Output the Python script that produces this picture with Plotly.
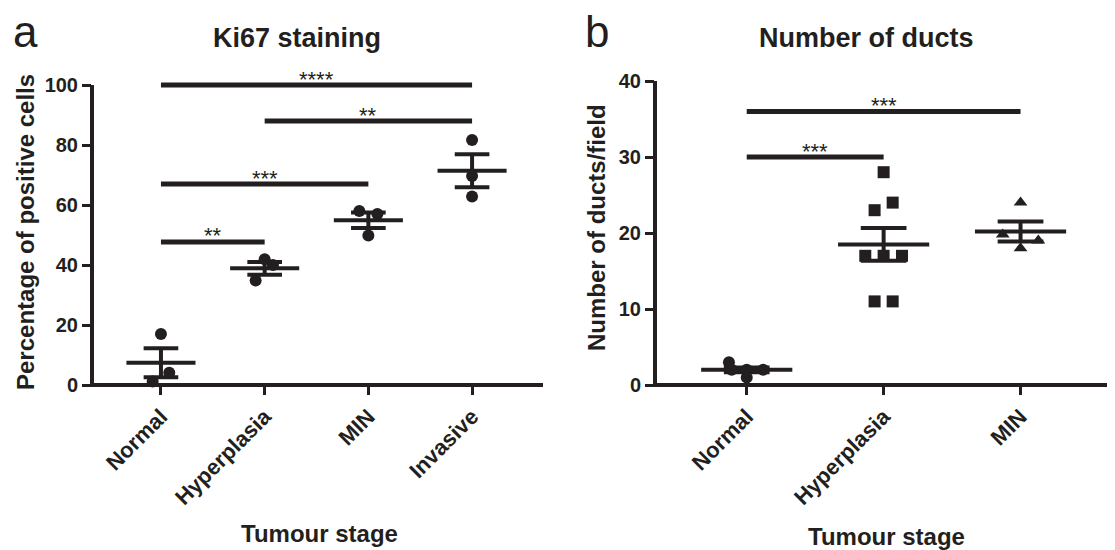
import numpy as np
import plotly.graph_objects as go

# ---------------- data ----------------
ki67_categories = ["Normal", "Hyperplasia", "MIN", "Invasive"]
ki67_normal = [17.0, 4.1, 1.2]
ki67_hyperplasia = [41.9, 40.0, 34.8]
ki67_min = [58.0, 57.0, 49.8]
ki67_invasive = [81.7, 69.7, 62.8]
ki67_ticks = [0, 20, 40, 60, 80, 100]
ki67_sig_pairs = [(0, 3), (1, 3), (0, 2), (0, 1)]
ki67_sig_heights = [100, 88, 67, 47.7]
ki67_sig_labels = ["****", "**", "***", "**"]

duct_categories = ["Normal", "Hyperplasia", "MIN"]
duct_normal = [3, 2, 2, 2, 1]
duct_hyperplasia = [28, 24, 23, 17, 17, 17, 11, 11]
duct_min = [24, 19.8, 19, 18]
duct_ticks = [0, 10, 20, 30, 40]
duct_sig_pairs = [(0, 2), (0, 1)]
duct_sig_heights = [36, 30]
duct_sig_labels = ["***", "***"]

# ---------------- style ----------------
INK = "#231f20"
FONT = "Liberation Sans"
W, H = 1115, 550
PAGE_OFFSET = 8  # the page body margin shifts the figure by this many pixels

# horizontal jitter (category units) for each point, matching the scatter layout
ki67_jitter = [[0, 0.08, -0.08], [0, 0.08, -0.087], [-0.087, 0.087, 0], [0, 0, 0]]
duct_jitter = [[-0.13, -0.11, 0.0, 0.12, 0.0],
               [0, 0.066, -0.066, -0.134, 0, 0.134, -0.066, 0.066],
               [0, -0.13, 0.13, 0]]

ki67_groups = [ki67_normal, ki67_hyperplasia, ki67_min, ki67_invasive]
duct_groups = [duct_normal, duct_hyperplasia, duct_min]
duct_symbols = ["circle", "square", "triangle-up"]


def px_x(p):
    return (p - PAGE_OFFSET) / W


def px_y(p):
    return 1 - (p - PAGE_OFFSET) / H


# pixel geometry of the two panels (axis line centres)
L_X0, L_X1, L_YB, L_YT = 92, 543, 385, 85
R_X0, R_X1, R_YB, R_YT = 655, 1115, 385, 81
EXT_TOP = 50  # drawing layer extends above the axes so top bars are not clipped

ki67_ymax = 100
duct_ymax = 40
ki67_xrange = [-0.665, 3.684]
duct_xrange = [-0.67, 2.69]
ki67_ext = ki67_ymax * (L_YB - EXT_TOP) / (L_YB - L_YT)
duct_ext = duct_ymax * (R_YB - EXT_TOP) / (R_YB - R_YT)

fig = go.Figure()


def add_panel(groups, jitter, symbols, xa, ya, sig_pairs, sig_heights, sig_labels, star_shift):
    for i, vals in enumerate(groups):
        vals = np.asarray(vals, dtype=float)
        xs = [i + j for j in jitter[i]]
        m = vals.mean()
        sem = vals.std(ddof=1) / np.sqrt(len(vals))
        fig.add_trace(go.Scatter(x=[i - 0.333, i + 0.333], y=[m, m], mode="lines",
                                 xaxis=xa, yaxis=ya,
                                 line=dict(color=INK, width=4), hoverinfo="skip"))
        fig.add_trace(go.Scatter(
            x=[i - 0.167, i + 0.167, None, i, i, None, i - 0.167, i + 0.167],
            y=[m + sem, m + sem, None, m - sem, m + sem, None, m - sem, m - sem],
            mode="lines", xaxis=xa, yaxis=ya,
            line=dict(color=INK, width=4), hoverinfo="skip"))
        fig.add_trace(go.Scatter(
            x=xs, y=vals, mode="markers", xaxis=xa, yaxis=ya, cliponaxis=False,
            marker=dict(symbol=symbols[i], size=12, color=INK, line=dict(width=0)),
            hoverinfo="skip"))
    for (a, b), h, lab in zip(sig_pairs, sig_heights, sig_labels):
        fig.add_trace(go.Scatter(x=[a, b], y=[h, h], mode="lines", xaxis=xa, yaxis=ya,
                                 line=dict(color=INK, width=5), hoverinfo="skip"))
        fig.add_annotation(x=(a + b) / 2, y=h, xref=xa, yref=ya, text=lab,
                           showarrow=False, yanchor="middle", yshift=star_shift,
                           font=dict(family=FONT, size=22, color=INK))


# empty traces so the visible axes exist
fig.add_trace(go.Scatter(x=[None], y=[None], xaxis="x", yaxis="y", hoverinfo="skip"))
fig.add_trace(go.Scatter(x=[None], y=[None], xaxis="x2", yaxis="y2", hoverinfo="skip"))

add_panel(ki67_groups, ki67_jitter, ["circle"] * 4, "x3", "y3",
          ki67_sig_pairs, ki67_sig_heights, ki67_sig_labels, 6)
add_panel(duct_groups, duct_jitter, duct_symbols, "x4", "y4",
          duct_sig_pairs, duct_sig_heights, duct_sig_labels, 6)

axis_common = dict(showline=False, ticks="outside",
                   ticklen=9, tickwidth=3, tickcolor=INK, showgrid=False,
                   zeroline=False, automargin=False, fixedrange=True)
yfont = dict(family=FONT, size=20, color=INK, weight="bold")
xfont = dict(family=FONT, size=22, color=INK, weight="bold")
hidden = dict(visible=False, showgrid=False, zeroline=False, fixedrange=True)

fig.update_layout(
    width=W, height=H, template="none",
    margin=dict(l=0, r=0, t=0, b=0),
    paper_bgcolor="white", plot_bgcolor="rgba(0,0,0,0)", showlegend=False,
    xaxis=dict(domain=[px_x(L_X0), px_x(L_X1)], range=ki67_xrange,
               tickvals=list(range(len(ki67_categories))), ticktext=ki67_categories,
               tickangle=-45, anchor="y", tickfont=xfont, **axis_common),
    yaxis=dict(domain=[px_y(L_YB), px_y(L_YT)], range=[0, ki67_ymax], tickvals=ki67_ticks,
               anchor="x", tickfont=yfont, **axis_common),
    xaxis2=dict(domain=[px_x(R_X0), px_x(R_X1)], range=duct_xrange,
                tickvals=list(range(len(duct_categories))), ticktext=duct_categories,
                tickangle=-45, anchor="y2", tickfont=xfont, **axis_common),
    yaxis2=dict(domain=[px_y(R_YB), px_y(R_YT)], range=[0, duct_ymax], tickvals=duct_ticks,
                anchor="x2", tickfont=yfont, **axis_common),
    xaxis3=dict(domain=[px_x(L_X0), px_x(L_X1)], range=ki67_xrange, anchor="y3", **hidden),
    yaxis3=dict(domain=[px_y(L_YB), px_y(EXT_TOP)], range=[0, ki67_ext], anchor="x3", **hidden),
    xaxis4=dict(domain=[px_x(R_X0), px_x(R_X1)], range=duct_xrange, anchor="y4", **hidden),
    yaxis4=dict(domain=[px_y(R_YB), px_y(EXT_TOP)], range=[0, duct_ext], anchor="x4", **hidden),
)

# axis lines (drawn as paper shapes so they are not clipped and keep full width)
AXIS_W = 4
for x0, x1, yb, yt in [(L_X0, L_X1, L_YB, L_YT), (R_X0, R_X1, R_YB, R_YT)]:
    fig.add_shape(type="line", xref="paper", yref="paper",
                  x0=px_x(x0), x1=px_x(x0), y0=px_y(yb + AXIS_W / 2), y1=px_y(yt),
                  line=dict(color=INK, width=AXIS_W))
    fig.add_shape(type="line", xref="paper", yref="paper",
                  x0=px_x(x0 - AXIS_W / 2), x1=px_x(x1), y0=px_y(yb), y1=px_y(yb),
                  line=dict(color=INK, width=AXIS_W))

texts = [
    dict(text="a", x=11, y=31, size=44, bold=False, xanchor="left", angle=0),
    dict(text="b", x=583, y=31, size=44, bold=False, xanchor="left", angle=0),
    dict(text="Ki67 staining", x=297, y=38, size=27, bold=True, xanchor="center", angle=0),
    dict(text="Number of ducts", x=866, y=38, size=27, bold=True, xanchor="center", angle=0),
    dict(text="Percentage of positive cells", x=26, y=232, size=24, bold=True, xanchor="center", angle=-90),
    dict(text="Number of ducts/field", x=596, y=228, size=24, bold=True, xanchor="center", angle=-90),
    dict(text="Tumour stage", x=319, y=533, size=24, bold=True, xanchor="center", angle=0),
    dict(text="Tumour stage", x=886, y=536, size=24, bold=True, xanchor="center", angle=0),
]
for t in texts:
    fig.add_annotation(
        x=px_x(t["x"]), y=px_y(t["y"]), xref="paper", yref="paper", text=t["text"],
        showarrow=False, xanchor=t["xanchor"], yanchor="middle", textangle=t["angle"],
        font=dict(family=FONT, size=t["size"], color=INK,
                  weight="bold" if t["bold"] else "normal"))

fig.write_html("out.html")
